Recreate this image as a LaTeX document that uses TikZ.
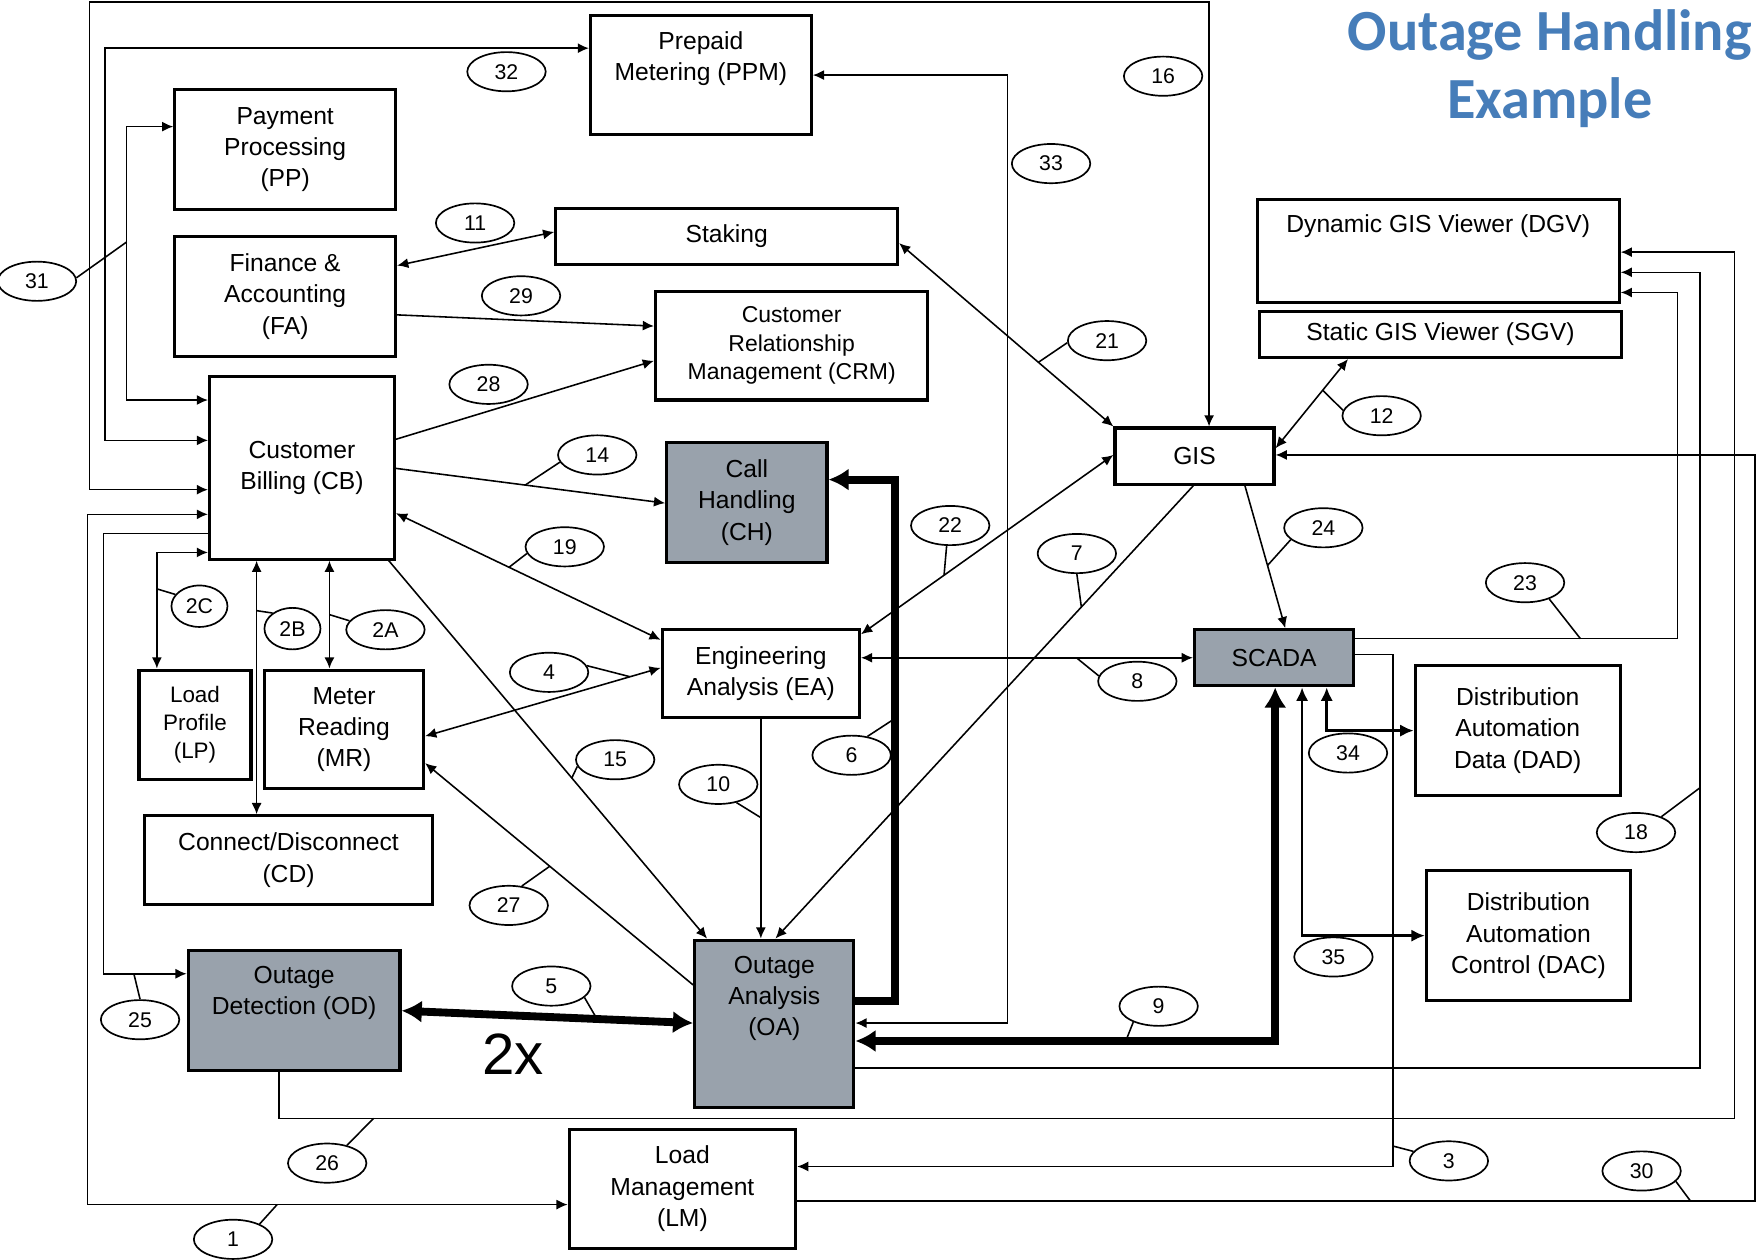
\documentclass[tikz,border=0pt]{standalone}
\usepackage{fontspec}
\setmainfont{Liberation Sans}
\newfontfamily\headingfont{Carlito}
\usetikzlibrary{arrows.meta,shapes.geometric,calc}
\definecolor{boxgray}{RGB}{153,162,172}
\definecolor{headblue}{RGB}{70,125,185}
\begin{document}
\begin{tikzpicture}[x=1pt,y=-1pt,
  >={Latex[length=10pt,width=9pt]},
  sysbox/.style={draw,line width=2.8pt,inner sep=0pt,align=center,
     font=\fontsize{22}{28}\selectfont},
  shaded/.style={sysbox,fill=boxgray},
  plaintext/.style={inner sep=0pt,align=center,font=\fontsize{22}{28}\selectfont},
  tag/.style={draw,ellipse,line width=1.5pt,minimum width=70pt,minimum height=35pt,
     inner sep=0pt,font=\fontsize{19}{19}\selectfont},
  smalltag/.style={tag,minimum width=50pt,minimum height=37pt},
  link/.style={line width=1.4pt},
  heavy/.style={line width=7pt,>={Latex[length=18pt,width=20pt]}},
  medium/.style={line width=2.4pt,>={Latex[length=12pt,width=11pt]}},
  tick/.style={line width=1.4pt},
]
\useasboundingbox (0,0) rectangle (1568,1124);

% ---------- systems ----------
\node[sysbox,minimum width=197pt,minimum height=107pt] (pp) at (254.5,133.5) {Payment\\Processing\\(PP)};
\node[sysbox,minimum width=197pt,minimum height=107pt] (fa) at (254.5,264.5) {Finance \&\\Accounting\\(FA)};
\node[sysbox,minimum width=197pt,minimum height=106pt] (ppm) at (625.5,67) {};
\node[plaintext] (ppmtext) at (625.5,52.5) {Prepaid\\Metering (PPM)};
\node[sysbox,minimum width=305pt,minimum height=50pt] (staking) at (648.5,211) {Staking};
\node[sysbox,minimum width=243pt,minimum height=97pt,font=\fontsize{20.5}{25.5}\selectfont] (crm) at (706.5,308.5) {Customer\\Relationship\\Management (CRM)};
\node[sysbox,minimum width=165pt,minimum height=163pt] (cb) at (269.5,417.5) {Customer\\Billing (CB)};
\node[shaded,minimum width=143pt,minimum height=107pt] (ch) at (666.5,448.5) {Call\\Handling\\(CH)};
\node[sysbox,minimum width=176pt,minimum height=78pt] (ea) at (679,601) {Engineering\\Analysis (EA)};
\node[sysbox,minimum width=142pt,minimum height=50pt] (gis) at (1066,407) {GIS};
\node[sysbox,minimum width=323pt,minimum height=92pt] (dgv) at (1283.5,224) {};
\node[plaintext] (dgvtext) at (1283.5,202) {Dynamic GIS Viewer (DGV)};
\node[sysbox,minimum width=323pt,minimum height=41pt] (sgv) at (1285.5,298.5) {Static GIS Viewer (SGV)};
\node[shaded,minimum width=142pt,minimum height=50pt] (scada) at (1137,587) {SCADA};
\node[sysbox,minimum width=183pt,minimum height=116pt] (dad) at (1354.5,652) {Distribution\\Automation\\Data (DAD)};
\node[sysbox,minimum width=182pt,minimum height=116pt] (dac) at (1364,835) {Distribution\\Automation\\Control (DAC)};
\node[sysbox,minimum width=100pt,minimum height=98pt,font=\fontsize{20}{25}\selectfont] (lp) at (174,647) {Load\\Profile\\(LP)};
\node[sysbox,minimum width=142pt,minimum height=106pt] (mr) at (307,651) {Meter\\Reading\\(MR)};
\node[sysbox,minimum width=257pt,minimum height=79pt] (cd) at (257.5,767.5) {Connect/Disconnect\\(CD)};
\node[shaded,minimum width=189pt,minimum height=107pt] (od) at (262.5,901.5) {};
\node[plaintext] (odtext) at (262.5,886) {Outage\\Detection (OD)};
\node[shaded,minimum width=142pt,minimum height=149pt] (oa) at (691,913.5) {};
\node[plaintext] (oatext) at (691,891) {Outage\\Analysis\\(OA)};
\node[sysbox,minimum width=202pt,minimum height=106pt] (lm) at (609,1061) {Load\\Management\\(LM)};

% ---------- heading ----------
\node[anchor=north,align=center,inner sep=0pt,text=headblue,
  font=\headingfont\bfseries\fontsize{52}{61}\selectfont] (heading) at (1383,8) {Outage Handling\\Example};
\node[inner sep=0pt,font=\fontsize{52}{52}\selectfont] (twox) at (458,941) {2x};

% ---------- interface numbers ----------
\node[tag] (l1) at (208,1106) {1};
\node[tag] (l2a) at (344,562) {2A};
\node[smalltag] (l2b) at (261,561) {2B};
\node[smalltag] (l2c) at (178,541) {2C};
\node[tag] (l3) at (1293,1036) {3};
\node[tag] (l4) at (490,600) {4};
\node[tag] (l5) at (492,880) {5};
\node[tag] (l6) at (760,674) {6};
\node[tag] (l7) at (961,494) {7};
\node[tag] (l8) at (1015,608) {8};
\node[tag] (l9) at (1034,898) {9};
\node[tag] (l10) at (641,700) {10};
\node[tag] (l11) at (424,199) {11};
\node[tag] (l12) at (1233,371) {12};
\node[tag] (l14) at (533,406) {14};
\node[tag] (l15) at (549,678) {15};
\node[tag] (l16) at (1038,68) {16};
\node[tag] (l18) at (1460,743) {18};
\node[tag] (l19) at (504,488) {19};
\node[tag] (l21) at (988,304) {21};
\node[tag] (l22) at (848,469) {22};
\node[tag] (l23) at (1361,520) {23};
\node[tag] (l24) at (1181,471) {24};
\node[tag] (l25) at (125,910) {25};
\node[tag] (l26) at (292,1038) {26};
\node[tag] (l27) at (454,808) {27};
\node[tag] (l28) at (436,343) {28};
\node[tag] (l29) at (465,264) {29};
\node[tag] (l30) at (1465,1045) {30};
\node[tag] (l31) at (33,251) {31};
\node[tag] (l32) at (452,64) {32};
\node[tag] (l33) at (938,146) {33};
\node[tag] (l34) at (1203,672) {34};
\node[tag] (l35) at (1190,854) {35};

% ---------- interfaces ----------
% 1
\draw[link,<->] (cb.west |- 0,459) -- (78,459) -- (78,1075) -- coordinate[pos=0.395] (k1) (lm.west |- 0,1075);
\draw[tick] (k1) -- (l1.30);
% 2A, 2B, 2C
\draw[link,<->] (cb.south -| 294,0) -- coordinate[pos=0.5] (k2a) (mr.north -| 294,0);
\draw[tick] (k2a) -- (l2a.166);
\draw[link,<->] (cb.south -| 229,0) -- coordinate[pos=0.197] (k2b) (cd.north -| 229,0);
\draw[tick] (k2b) -- (l2b.142);
\draw[link,<->] (cb.west |- 0,493) -- (140,493) -- coordinate[pos=0.314] (k2c) (lp.north -| 140,0);
\draw[tick] (k2c) -- (l2c.154);
% 3
\draw[link,->] (scada.east |- 0,584) -- (1243,584) -- coordinate[pos=0.96] (k3) (1243,1041) -- (lm.east |- 0,1041);
\draw[tick] (k3) -- (l3.165);
% 4
\draw[link,<->] (ea.west |- 0,596) -- coordinate[pos=0.13] (k4) (mr.east |- 0,657);
\draw[tick] (k4) -- (l4.10);
% 5
\draw[heavy,<->] (od.east |- 0,902) -- coordinate[pos=0.67] (k5) (oa.west |- 0,913);
\draw[tick] (k5) -- (l5.-19);
% 6
\draw[heavy,->] (oa.east |- 0,893) -- (799,893) -- coordinate[pos=0.542] (k6) (799,428) -- (ch.east |- 0,428);
\draw[tick] (k6) -- (l6.50);
% 7
\draw[link,->] (gis.south -| 1065,0) -- coordinate[pos=0.268] (k7) (oa.north -| 692,0);
\draw[tick] (k7) -- (l7.south);
% 8
\draw[link,<->] (ea.east |- 0,587) -- coordinate[pos=0.649] (k8) (scada.west |- 0,587);
\draw[tick] (k8) -- (l8.172);
% 9
\draw[heavy,<->] (oa.east |- 0,929) -- coordinate[pos=0.644] (k9) (1138,929) -- (scada.south -| 1138,0);
\draw[tick] (k9) -- (l9.212);
% 10
\draw[link,->] (ea.south -| 679,0) -- coordinate[pos=0.45] (k10) (oa.north -| 679,0);
\draw[tick] (k10) -- (l10.-45);
% 11
\draw[link,<->] (fa.east |- 0,237) -- (staking.west |- 0,207);
% 12
\draw[link,<->] (gis.east |- 0,400) -- coordinate[pos=0.65] (k12) (sgv.south -| 1203,0);
\draw[tick] (k12) -- (l12.172);
% 14
\draw[link,->] (cb.east |- 0,418) -- coordinate[pos=0.48] (k14) (ch.west |- 0,449);
\draw[tick] (k14) -- (l14.191);
% 15
\draw[link,->] (cb.south -| 347,0) -- coordinate[pos=0.575] (k15) (oa.north -| 631,0);
\draw[tick] (k15) -- (l15.190);
% 16
\draw[link,<->] (cb.west |- 0,437) -- (80,437) -- (80,2) -- (1079,2) -- (gis.north -| 1079,0);
% 18
\draw[link,->] (oa.east |- 0,953) -- (1517,953) -- coordinate[pos=0.352] (k18) (1517,243) -- (dgv.east |- 0,243);
\draw[tick] (k18) -- (l18.32);
% 19
\draw[link,<->] (cb.east |- 0,458) -- coordinate[pos=0.427] (k19) (ea.west |- 0,571);
\draw[tick] (k19) -- (l19.190);
% 21
\draw[link,<->] (staking.east |- 0,217) -- coordinate[pos=0.65] (k21) (gis.north west);
\draw[tick] (k21) -- (l21.183);
% 22
\draw[link,<->] (gis.west |- 0,406) -- coordinate[pos=0.671] (k22) (ea.east |- 0,566);
\draw[tick] (k22) -- (l22.260);
% 23
\draw[link,->] (scada.east |- 0,570) -- coordinate[pos=0.699] (k23) (1497,570) -- (1497,261) -- (dgv.east |- 0,261);
\draw[tick] (k23) -- (l23.-34);
% 24
\draw[link,->] (gis.south -| 1111,0) -- coordinate[pos=0.56] (k24) (scada.north -| 1147,0);
\draw[tick] (k24) -- (l24.200);
% 25
\draw[link,->] (cb.west |- 0,476) -- (92.5,476) -- (92.5,869) -- coordinate[pos=0.364] (k25) (od.west |- 0,869);
\draw[tick] (k25) -- (l25.north);
% 26
\draw[link,->] (od.south -| 249,0) -- (249,998) -- coordinate[pos=0.065] (k26) (1548,998) -- (1548,225) -- (dgv.east |- 0,225);
\draw[tick] (k26) -- (l26.42);
% 27
\draw[link,->] (oa.west |- 0,879) -- coordinate[pos=0.535] (k27) (mr.east |- 0,681);
\draw[tick] (k27) -- (l27.56);
% 28, 29
\draw[link,->] (cb.east |- 0,392) -- (crm.west |- 0,322);
\draw[link,->] (fa.east |- 0,281) -- (crm.west |- 0,291);
% 30
\draw[link,->] (lm.east |- 0,1072) -- coordinate[pos=0.933] (k30) (1566,1072) -- (1566,406) -- (gis.east |- 0,406);
\draw[tick] (k30) -- (l30.-17);
% 31
\draw[link,<->] (cb.west |- 0,357) -- (113,357) -- coordinate[pos=0.578] (k31) (113,113) -- (pp.west |- 0,113);
\draw[tick] (k31) -- (l31.5);
% 32
\draw[link,<->] (cb.west |- 0,393) -- (93.5,393) -- (93.5,43) -- (ppm.west |- 0,43);
% 33
\draw[link,<->] (oa.east |- 0,913) -- (899,913) -- (899,67) -- (ppm.east |- 0,67);
% 34, 35
\draw[medium,<->] (scada.south -| 1184,0) -- (1184,652) -- (dad.west |- 0,652);
\draw[medium,<->] (scada.south -| 1162,0) -- (1162,835) -- (dac.west |- 0,835);
\end{tikzpicture}
\end{document}
